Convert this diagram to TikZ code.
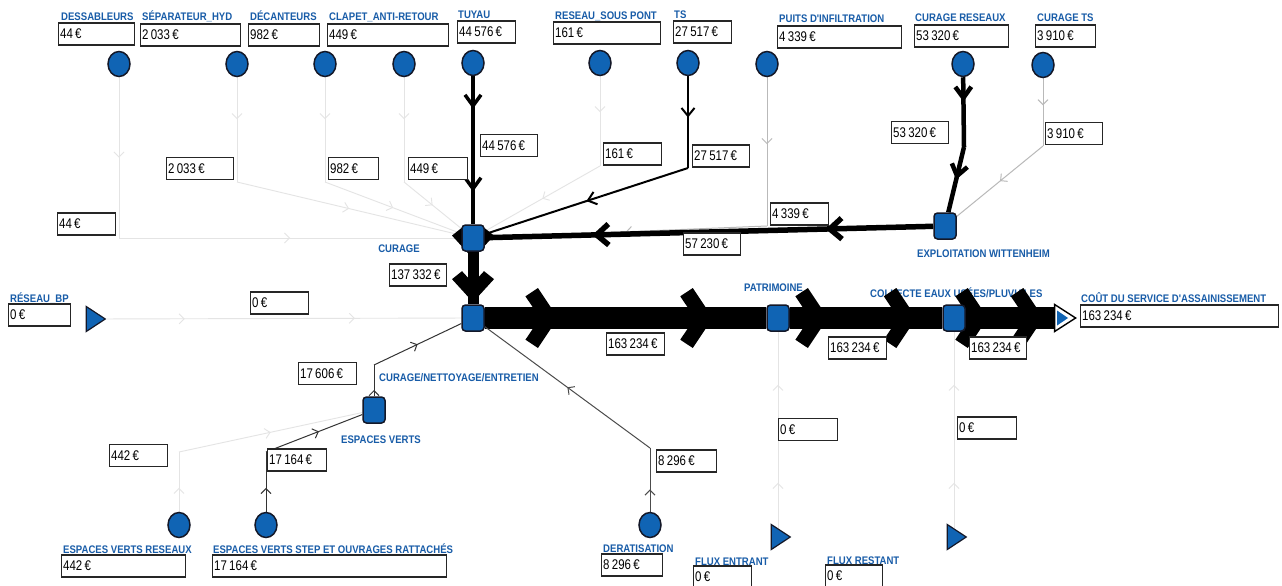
\documentclass[tikz,border=0pt]{standalone}
\usepackage{fontspec}
\usetikzlibrary{arrows.meta,decorations.markings,shapes.geometric}
\newfontfamily\lblfont[FakeStretch=0.87]{Liberation Sans Bold}
\newfontfamily\valfont[FakeStretch=0.82]{Liberation Sans}
\definecolor{nodeblue}{RGB}{16,100,180}
\definecolor{lblblue}{RGB}{24,92,168}
\definecolor{edgeline}{RGB}{20,24,40}
\definecolor{faint}{RGB}{228,228,228}
\definecolor{midgray}{RGB}{185,185,185}
\pgfdeclarelayer{bg}\pgfdeclarelayer{edges}
\pgfsetlayers{bg,edges,main}
\newcommand\chevbig{\fill[black] (0,0) -- (-20,-30) -- (-32.5,-21.7) -- (-18,0) -- (-32.5,21.7) -- (-20,30) -- cycle;}
\newcommand\chevmid{\fill[black] (0,0) -- (-23,-21) -- (-31,-11) -- (-19,0) -- (-31,11) -- (-23,21) -- cycle;}
\tikzset{
  src/.style={ellipse, draw=edgeline, line width=1.5pt, fill=nodeblue, minimum width=22pt, minimum height=25pt, inner sep=0pt},
  proc/.style={rectangle, rounded corners=3.5pt, draw=edgeline, line width=1.5pt, fill=nodeblue, minimum width=22pt, minimum height=26pt, inner sep=0pt},
  tri/.style={isosceles triangle, isosceles triangle stretches, draw=edgeline, line width=1.2pt, fill=nodeblue, minimum width=25pt, minimum height=19pt, inner sep=0pt},
  lbl/.style={font=\lblfont\fontsize{11}{11}\selectfont, text=lblblue, inner sep=0pt, anchor=base west},
  vbox/.style={draw=black!85, line width=1.3pt, fill=white, font=\valfont\fontsize{14}{14}\selectfont, inner xsep=1.5pt, inner ysep=0pt, minimum height=22pt, text width=#1, align=left, anchor=west},
  faintE/.style={draw=faint, line width=0.9pt},
  grayE/.style={draw=midgray, line width=1pt},
  thinE/.style={draw=black!80, line width=1pt},
  ma/.style 2 args={postaction={decorate,decoration={markings,mark=at position #1 with {\arrow{#2}}}}},
  chb/.style={postaction={decorate,decoration={markings,mark=at position #1 with {\chevbig}}}},
  chm/.style={postaction={decorate,decoration={markings,mark=at position #1 with {\chevmid}}}},
  tV/.tip={Straight Barb[length=5pt,width=10pt]},
  bV/.tip={Straight Barb[length=11pt,width=16pt]},
  eV/.tip={Straight Barb[length=12pt,width=21pt]},
}
\begin{document}
\begin{tikzpicture}[x=1pt,y=-1pt]
\useasboundingbox (0,0) rectangle (1282,586);
\begin{pgfonlayer}{bg}
\fill[white] (0,0) rectangle (1282,586);
\node[lbl] (lcoll) at (870,297) {COLLECTE EAUX USÉES/PLUVIALES};
\end{pgfonlayer}

% ---------- nodes ----------
\node[src] (dess) at (119,64) {};
\node[src] (sep) at (237,64) {};
\node[src] (dec) at (325,64) {};
\node[src] (clap) at (404,64) {};
\node[src] (tuy) at (473,63) {};
\node[src] (rsp) at (600,63) {};
\node[src] (ts) at (688,63) {};
\node[src] (puits) at (767,64) {};
\node[src] (cres) at (963,64) {};
\node[src] (cts) at (1043,65) {};
\node[src] (evr) at (179,525) {};
\node[src] (evs) at (266,525) {};
\node[src] (derat) at (650,525) {};

\node[proc] (curage) at (473,238) {};
\node[proc] (hub) at (473,318) {};
\node[proc] (expl) at (945,226) {};
\node[proc] (patr) at (778,318) {};
\node[proc] (coll) at (954,318) {};
\node[proc] (esp) at (374,410) {};

\node[tri] (bp) at (93,319) {};
\node[tri] (fe) at (778,537) {};
\node[tri] (fr) at (954,537) {};
\node[tri, fill=white, draw=black, line width=1.4pt, minimum width=27pt, minimum height=21pt] (sink) at (1062,318) {};
\node[tri, draw=none, minimum width=15pt, minimum height=11pt] (sinkin) at (1061,318) {};

% ---------- corner points ----------
\coordinate (kdess) at (119,238);
\coordinate (ksep) at (237,182);
\coordinate (kdec) at (325,182);
\coordinate (kclap) at (404,182);
\coordinate (krsp) at (600,166);
\coordinate (kts) at (688,168);
\coordinate (kpuits) at (767,226);
\coordinate (kcres) at (964,147);
\coordinate (kcts) at (1043,146);
\coordinate (kesp) at (374,365);
\coordinate (kevr) at (179,452);
\coordinate (kevs) at (266,452);
\coordinate (kderat) at (650,448);

% ---------- connectors ----------
\begin{pgfonlayer}{edges}
\draw[faintE, ma={0.5}{tV}] (dess) -- (kdess);
\draw[faintE, ma={0.5}{tV}] (kdess) -- (curage);
\draw[faintE, ma={0.4}{tV}] (sep) -- (ksep);
\draw[faintE, ma={0.5}{tV}] (ksep) -- (curage);
\draw[faintE, ma={0.4}{tV}] (dec) -- (kdec);
\draw[faintE, ma={0.5}{tV}] (kdec) -- (curage);
\draw[faintE, ma={0.4}{tV}] (clap) -- (kclap);
\draw[faintE, ma={0.5}{tV}] (kclap) -- (curage);
\draw[faintE, ma={0.4}{tV}] (rsp) -- (krsp);
\draw[faintE, ma={0.5}{tV}] (krsp) -- (curage);
\draw[grayE, ma={0.45}{tV}] (puits) -- (kpuits);
\draw[grayE, ma={0.5}{tV}] (kpuits) -- (curage);
\draw[grayE, ma={0.4}{tV}] (cts) -- (kcts);
\draw[grayE, ma={0.5}{tV}] (kcts) -- (expl);
\draw[black, line width=2pt, ma={0.45}{Straight Barb[length=8pt,width=13pt]}] (ts) -- (kts);
\draw[black, line width=2pt, ma={0.5}{Straight Barb[length=8pt,width=13pt]}] (kts) -- (curage);
\draw[black, line width=3.5pt, ma={0.22}{bV}, ma={0.78}{bV}] (tuy) -- (curage);
\draw[black, line width=4.5pt, ma={0.35}{bV}] (cres) -- (kcres);
\draw[black, line width=4.5pt, ma={0.5}{bV}] (kcres) -- (expl);
\draw[black, line width=5.5pt, ma={0.24}{eV}, ma={0.76}{eV}] (expl) -- (curage);
\draw[black, line width=11pt, chm={0.13}, chm={0.96}] (curage) -- (hub);
\draw[faintE, ma={0.22}{tV}, ma={0.7}{tV}] (bp) -- (hub);
\draw[black, line width=22pt, chb={0.26}, chb={0.81}] (hub) -- (patr);
\draw[black, line width=22pt, chb={0.25}, chb={0.83}] (patr) -- (coll);
\draw[black, line width=22pt, chb={0.25}, chb={0.88}] (coll) -- (sink);
\draw[faintE, ma={0.23}{tV}, ma={0.73}{tV}] (fe) -- (patr);
\draw[faintE, ma={0.23}{tV}, ma={0.73}{tV}] (fr) -- (coll);
\draw[thinE, ma={0.2}{tV}] (esp) -- (kesp);
\draw[thinE, ma={0.5}{tV}] (kesp) -- (hub);
\draw[faintE, ma={0.4}{tV}] (evr) -- (kevr);
\draw[faintE, ma={0.5}{tV}] (kevr) -- (esp);
\draw[thinE, ma={0.4}{tV}] (evs) -- (kevs);
\draw[thinE, ma={0.55}{tV}] (kevs) -- (esp);
\draw[thinE, draw=black!70, ma={0.35}{tV}] (derat) -- (kderat);
\draw[thinE, draw=black!70, ma={0.5}{tV}] (kderat) -- (hub);
\end{pgfonlayer}

% ---------- labels ----------
\node[lbl] (tdess) at (61,21) {DESSABLEURS};
\node[lbl] (tsep) at (142,21) {SÉPARATEUR\_HYD};
\node[lbl] (tdec) at (250,21) {DÉCANTEURS};
\node[lbl] (tclap) at (329,21) {CLAPET\_ANTI-RETOUR};
\node[lbl] (ttuy) at (458,19) {TUYAU};
\node[lbl] (trsp) at (555,20) {RESEAU\_SOUS PONT};
\node[lbl] (tts) at (674,19) {TS};
\node[lbl] (tpuits) at (779,23) {PUITS D'INFILTRATION};
\node[lbl] (tcres) at (915,22) {CURAGE RESEAUX};
\node[lbl] (tcts) at (1037,22) {CURAGE TS};
\node[lbl] (tbp) at (10,302) {RÉSEAU\_BP};
\node[lbl] (tcout) at (1081,302) {COÛT DU SERVICE D'ASSAINISSEMENT};
\node[lbl, anchor=base east] (tcur) at (420,252) {CURAGE};
\node[lbl] (texpl) at (917,257) {EXPLOITATION WITTENHEIM};
\node[lbl] (tpatr) at (744,291) {PATRIMOINE};
\node[lbl] (thub) at (379,381) {CURAGE/NETTOYAGE/ENTRETIEN};
\node[lbl] (tesp) at (341,443) {ESPACES VERTS};
\node[lbl] (tevr) at (63,553) {ESPACES VERTS RESEAUX};
\node[lbl] (tevs) at (213,553) {ESPACES VERTS STEP ET OUVRAGES RATTACHÉS};
\node[lbl] (tderat) at (603,552) {DERATISATION};
\node[lbl] (tfe) at (695,565) {FLUX ENTRANT};
\node[lbl] (tfr) at (827,564) {FLUX RESTANT};

% ---------- value boxes ----------
\node[vbox=73pt] (vdess) at (58,34) {44\,€};
\node[vbox=97pt] (vsep) at (140,35) {2\,033\,€};
\node[vbox=68pt] (vdec) at (248,35) {982\,€};
\node[vbox=118pt] (vclap) at (327,35) {449\,€};
\node[vbox=55pt] (vtuy) at (457,32) {44\,576\,€};
\node[vbox=104pt] (vrsp) at (553,33) {161\,€};
\node[vbox=55pt] (vts) at (673,32) {27\,517\,€};
\node[vbox=121pt] (vpuits) at (777,37) {4\,339\,€};
\node[vbox=91pt] (vcres) at (914,36) {53\,320\,€};
\node[vbox=57pt] (vcts) at (1035,36) {3\,910\,€};
\node[vbox=59pt] (vbp) at (8,315) {0\,€};
\node[vbox=195pt] (vcout) at (1080,316) {163\,234\,€};
\node[vbox=55pt] (edess) at (57,224) {44\,€};
\node[vbox=64pt] (esep) at (166,168.5) {2\,033\,€};
\node[vbox=47pt] (edec) at (328,168.5) {982\,€};
\node[vbox=56pt] (eclap) at (408,168.5) {449\,€};
\node[vbox=54pt] (etuy) at (480,145.5) {44\,576\,€};
\node[vbox=55pt] (ersp) at (603,154) {161\,€};
\node[vbox=54pt] (ets) at (692,156) {27\,517\,€};
\node[vbox=55pt] (epuits) at (770,214) {4\,339\,€};
\node[vbox=54pt] (eexpl) at (683,244) {57\,230\,€};
\node[vbox=54pt] (ecres) at (891,132.5) {53\,320\,€};
\node[vbox=54pt] (ects) at (1045,133.5) {3\,910\,€};
\node[vbox=54pt] (ecur) at (389,275) {137\,332\,€};
\node[vbox=55pt] (ebp) at (250,303) {0\,€};
\node[vbox=55pt] (ehub) at (606,344) {163\,234\,€};
\node[vbox=55pt] (epatr) at (828,348) {163\,234\,€};
\node[vbox=54pt] (ecoll) at (969,348) {163\,234\,€};
\node[vbox=55pt] (eesp) at (298,373.5) {17\,606\,€};
\node[vbox=56pt] (eevs) at (267,460) {17\,164\,€};
\node[vbox=55pt] (eevr) at (109,455.5) {442\,€};
\node[vbox=57pt] (ederat) at (656,461) {8\,296\,€};
\node[vbox=56pt] (efe) at (778,429.5) {0\,€};
\node[vbox=56pt] (efr) at (957,428) {0\,€};
\node[vbox=121pt] (vevr) at (61,566) {442\,€};
\node[vbox=231pt] (vevs) at (212,566) {17\,164\,€};
\node[vbox=58pt] (vderat) at (601,565) {8\,296\,€};
\node[vbox=55pt] (vfe) at (693,577) {0\,€};
\node[vbox=54pt] (vfr) at (825,576) {0\,€};
\end{tikzpicture}
\end{document}
